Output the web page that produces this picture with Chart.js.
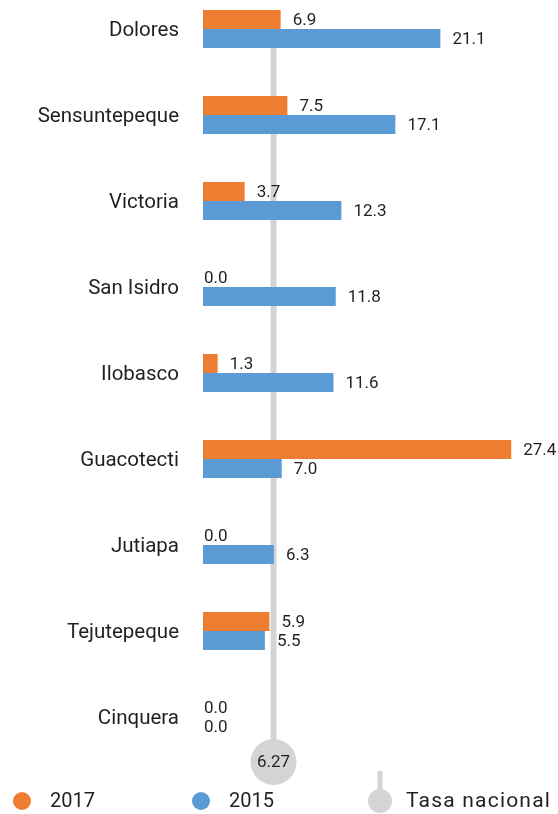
<!DOCTYPE html>
<html>
<head>
<meta charset="utf-8">
<script src="https://cdn.jsdelivr.net/npm/chart.js@4/dist/chart.umd.min.js"></script>
<style>
    html, body { margin: 0; padding: 0; background: #fff; }
    #wrap { width: 558px; height: 814px; position: relative; }
</style>
</head>
<body>
<div id="wrap"><canvas id="chart"></canvas></div>
<script>
    const categories = ['Dolores', 'Sensuntepeque', 'Victoria', 'San Isidro', 'Ilobasco', 'Guacotecti', 'Jutiapa', 'Tejutepeque', 'Cinquera'];
    const values2017 = [6.9, 7.5, 3.7, 0.0, 1.3, 27.4, 0.0, 5.9, 0.0];
    const values2015 = [21.1, 17.1, 12.3, 11.8, 11.6, 7.0, 6.3, 5.5, 0.0];
    const nationalRate = 6.27;
    const seriesLabels = ['2017', '2015'];
    const nationalLabel = 'Tasa nacional';

    const ORANGE = '#ED7D31';
    const BLUE = '#5B9BD5';
    const GRAY = '#D4D4D6';
    const TEXT = '#231F20';
    const FONT = 'Roboto, "Open Sans", sans-serif';

    // gray reference line, circle with value, category names, bar values and legend
    const overlayPlugin = {
        id: 'overlay',
        beforeDatasetsDraw(chart) {
            const ctx = chart.ctx;
            const x = chart.scales.x.getPixelForValue(nationalRate);
            const circleY = chart.chartArea.bottom + 45;
            ctx.save();
            ctx.strokeStyle = GRAY;
            ctx.lineWidth = 6;
            ctx.beginPath();
            ctx.moveTo(x, chart.chartArea.top - 15);
            ctx.lineTo(x, circleY);
            ctx.stroke();
            ctx.fillStyle = GRAY;
            ctx.beginPath();
            ctx.arc(x, circleY, 23, 0, Math.PI * 2);
            ctx.fill();
            ctx.fillStyle = TEXT;
            ctx.font = '17px ' + FONT;
            ctx.textAlign = 'center';
            ctx.textBaseline = 'middle';
            ctx.fillText(nationalRate.toFixed(2), x, circleY + 1);
            ctx.restore();
        },
        afterDatasetsDraw(chart) {
            const ctx = chart.ctx;
            const yScale = chart.scales.y;
            ctx.save();
            ctx.fillStyle = TEXT;
            ctx.textBaseline = 'middle';

            ctx.font = '20.5px ' + FONT;
            ctx.textAlign = 'right';
            categories.forEach((name, i) => {
                ctx.fillText(name, chart.chartArea.left - 24, yScale.getPixelForValue(i) + 2);
            });

            ctx.font = '17px ' + FONT;
            ctx.textAlign = 'left';
            chart.data.datasets.forEach((ds, di) => {
                chart.getDatasetMeta(di).data.forEach((bar, i) => {
                    const v = ds.data[i];
                    const lx = v > 0 ? bar.x + 12 : bar.base + 1;
                    ctx.fillText(v.toFixed(1), lx, bar.y + 1);
                });
            });

            // legend
            const ly = 801;
            ctx.font = '20px ' + FONT;
            [[22, ORANGE, seriesLabels[0]], [201, BLUE, seriesLabels[1]]].forEach(([lx, color, label]) => {
                ctx.fillStyle = color;
                ctx.beginPath();
                ctx.arc(lx, ly, 9, 0, Math.PI * 2);
                ctx.fill();
                ctx.fillStyle = TEXT;
                ctx.fillText(label, lx + 28, ly + 1);
            });
            ctx.strokeStyle = GRAY;
            ctx.lineWidth = 5;
            ctx.lineCap = 'round';
            ctx.beginPath();
            ctx.moveTo(380, 773);
            ctx.lineTo(380, 795);
            ctx.stroke();
            ctx.fillStyle = GRAY;
            ctx.beginPath();
            ctx.arc(380, ly, 12, 0, Math.PI * 2);
            ctx.fill();
            ctx.fillStyle = TEXT;
            ctx.font = '21px ' + FONT;
            ctx.letterSpacing = '1.2px';
            ctx.fillText(nationalLabel, 406, ly + 1);
            ctx.restore();
        }
    };

    new Chart(document.getElementById('chart').getContext('2d'), {
        type: 'bar',
        data: {
            labels: categories,
            datasets: [
                { label: seriesLabels[0], data: values2017, backgroundColor: ORANGE, barThickness: 19, inflateAmount: 0, clip: false },
                { label: seriesLabels[1], data: values2015, backgroundColor: BLUE, barThickness: 19, inflateAmount: 0, clip: false }
            ]
        },
        options: {
            indexAxis: 'y',
            responsive: true,
            maintainAspectRatio: false,
            animation: false,
            layout: { padding: { left: 203, right: 22, top: 29, bottom: 97 } },
            plugins: {
                legend: { display: false },
                tooltip: { enabled: false }
            },
            scales: {
                x: { display: false, min: 0, max: 29.6 },
                y: { display: false, offset: false }
            }
        },
        plugins: [overlayPlugin]
    });
</script>
</body>
</html>
